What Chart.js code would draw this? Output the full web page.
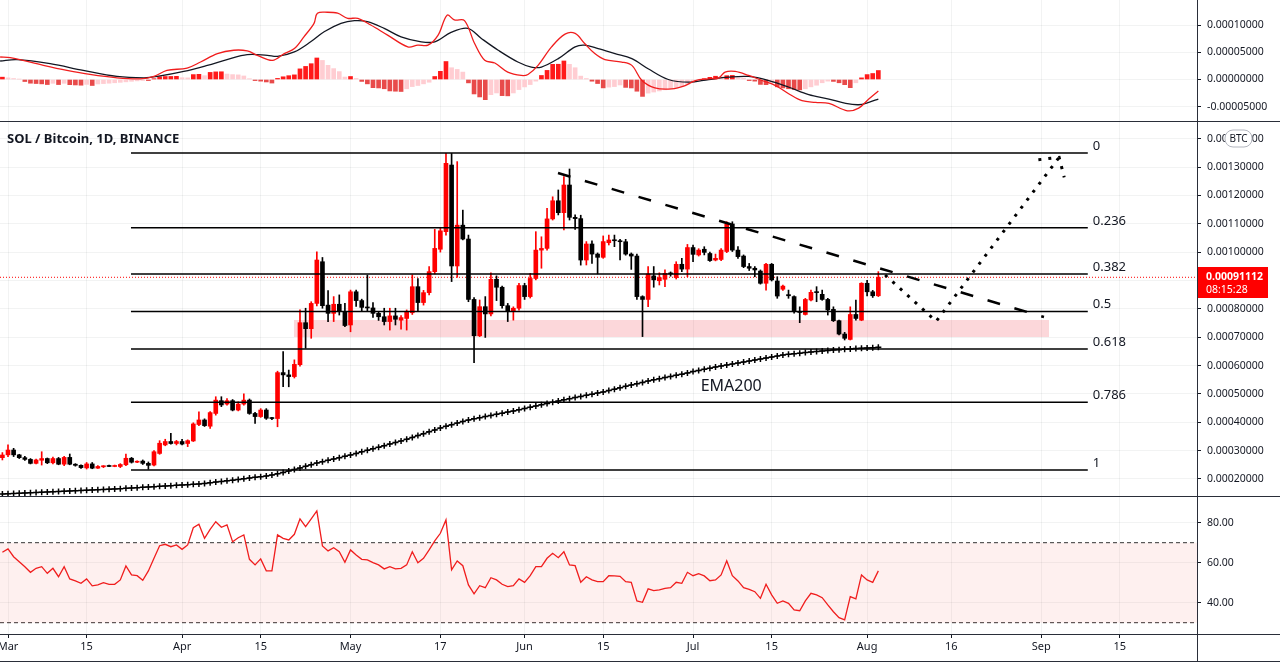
<!DOCTYPE html>
<html>
<head>
<meta charset="utf-8">
<title>SOL / Bitcoin, 1D, BINANCE</title>
<script src="https://cdn.jsdelivr.net/npm/chart.js@4.4.1/dist/chart.umd.min.js"></script>
<style>
  html, body { margin:0; padding:0; background:#ffffff; }
  body { width:1280px; height:662px; position:relative; overflow:hidden; }
  canvas { position:absolute; left:0; display:block; }
  .hl { position:absolute; left:0; width:1280px; height:1px; background:#2a2e39; }
  .vl { position:absolute; left:1197px; top:0; width:1px; height:662px; background:#2a2e39; }
</style>
</head>
<body>
<canvas id="macdChart" width="1280" height="121" style="top:0px"></canvas>
<canvas id="mainChart" width="1280" height="374" style="top:122px"></canvas>
<canvas id="rsiChart" width="1280" height="164" style="top:497px"></canvas>
<div class="hl" style="top:121px"></div>
<div class="hl" style="top:496px"></div>
<div class="hl" style="top:634px"></div>
<div class="hl" style="top:661px"></div>
<div class="vl"></div>
<script>
// ---------- DATA (prices in satoshis: 1e-8 BTC) ----------
const chartTitle = 'SOL / Bitcoin, 1D, BINANCE';
const FIRST_DAY = -1; // day index of first candle (0 = 1 Mar)

const dateTickDays   = [0, 14, 31, 45, 61, 77, 92, 106, 122, 136, 153, 168, 184, 198];
const dateTickLabels = ['Mar','15','Apr','15','May','17','Jun','15','Jul','15','Aug','16','Sep','15'];
const mainTickVals = [20000,30000,40000,50000,60000,70000,80000,90000,100000,110000,120000,130000,140000];
const macdTickVals = [-5000, 0, 5000, 10000];
const rsiTickVals  = [40, 60, 80];

const open = [
27500,28500,30200,28500,27500,26900,25500,26600,27200,25700,
27200,25200,27600,25200,24800,23900,25300,23800,24300,24600,
24400,24400,25000,27300,25900,26300,25500,24900,29000,32000,
33200,32500,33200,32500,33400,39200,40800,38600,43100,47600,
46400,47600,44300,46400,47800,43100,42000,44300,41400,41300,
57500,56700,56100,60300,75100,73000,81900,96600,81300,78400,
81600,79000,74300,86000,82900,80500,80300,78400,77200,75500,
77500,76000,76600,78600,87800,82200,85700,93100,101000,107200,
130700,95100,109500,104600,83300,70500,80750,78200,90400,87600,
81100,79200,80200,88200,84300,90700,100700,101300,111700,118100,
113900,123650,112250,111800,97200,102850,99300,98150,103300,104260,
104000,103650,99300,98600,84300,83300,91600,89900,90400,92500,
91000,95700,94000,101600,99000,101000,99500,97200,97400,100200,
109900,100700,98600,94900,94300,93300,89000,95700,89800,86900,
85000,84300,79000,78000,83100,85800,85100,83300,79800,75800,
71100,69200,78000,76000,89000,86000,84600];
const high = [
29300,32000,30800,28700,28000,27200,27000,29600,27400,27700,
27600,28000,28800,25400,25000,25800,25800,24700,24700,24900,
24900,25400,28800,27600,26400,26700,26000,30000,33500,34000,
36100,33600,34000,33800,39800,43700,41200,43800,49000,49000,
48300,48000,47200,50000,48200,43500,44800,44800,41700,58000,
64900,58400,62000,79600,80200,82500,100100,98100,86400,84300,
84900,81900,86600,86600,83400,91900,82200,79000,80200,80200,
80200,77600,79600,92000,90700,86500,94900,108000,108400,134800,
134800,131900,114800,106000,84000,83100,84300,92700,91600,88000,
81900,80700,89000,89000,92500,107200,105400,115400,119500,121900,
126600,129300,113100,113000,103700,104000,99700,105700,106000,106000,
104500,104500,99700,99300,84600,94900,94900,92700,93700,93000,
96600,97800,102700,102500,101200,101900,100000,99300,101200,110700,
110700,101900,99000,96000,94900,93700,96000,96000,91300,88400,
86600,84600,80700,83700,86600,87800,86600,83700,80700,76000,
71700,80700,83100,89200,90000,86500,93100];
const low = [
26700,27900,27900,27200,26500,25300,25300,24900,25400,25300,
25000,24700,25000,24500,23700,23500,23600,23700,24000,24300,
24300,24000,24700,25600,25700,25100,23400,24600,28700,31700,
32300,32000,32000,31400,33200,38800,38500,37800,42500,45500,
46000,44000,44000,46000,42800,39600,41700,41000,40900,38400,
52500,52500,55600,59800,66100,69600,81000,80200,75500,75500,
77800,73700,71900,80800,79200,79000,77000,75900,74300,72500,
74300,72800,72500,78000,79000,81300,84900,92300,100000,106000,
89600,91100,104300,82500,61000,70200,69900,77500,82900,80200,
75500,76000,79500,83300,83800,90200,94300,100700,111300,113100,
107800,111300,108000,95400,95450,96000,92300,97800,102500,101900,
97200,98900,93900,83300,70200,80750,87600,88400,87800,91500,
90500,93100,91300,96600,98600,99000,96700,96900,97000,99800,
100200,97800,94500,93500,91300,88700,86600,89800,83700,86500,
83700,78500,75100,77800,82800,82500,83000,77800,75500,70800,
69000,69000,76000,75800,84500,84000,84300];
const close = [
28450,30200,28500,27500,26900,25500,26700,27200,25700,27200,
25200,27600,25200,24800,24000,25300,23800,24400,24500,24400,
24600,25100,27300,25900,26100,25500,24800,29600,32600,33200,
32500,33200,32300,33500,39400,40800,38800,43400,47800,46100,
47600,44300,46400,47800,43100,42000,44300,41400,41300,57500,
56700,56100,60400,75100,73000,81900,97200,81100,78400,81600,
79000,74100,86000,82900,80500,80300,78400,77200,75500,77500,
76300,76900,79000,87800,82200,85700,93100,101300,107500,131300,
95100,109500,104600,83300,70500,80750,78200,90400,87600,81100,
79300,80200,88200,84300,90700,100700,101300,111700,118100,113900,
123650,112250,111800,97200,102850,99300,98150,103700,104260,104000,
103650,99300,98600,84300,83300,92300,90200,91000,92500,92300,
95700,94000,101600,99200,100700,99900,97000,97800,100700,109900,
100700,98400,94900,94300,93700,89000,95700,90200,84500,88000,
84600,79000,78700,83300,85800,85700,83300,79600,75800,71100,
69600,78000,76600,89000,86000,84600,91112];

const ema200 = [
14700,14790,14880,14970,15060,15150,15240,15330,15420,15510,
15600,15690,15780,15870,15960,16050,16140,16230,16320,16410,
16500,16590,16700,16815,16930,17050,17170,17290,17400,17520,
17640,17760,17870,17990,18110,18226,18440,18660,18890,19120,
19350,19580,19810,20060,20310,20560,20800,21047,21400,21800,
22300,22800,23350,23867,24450,25050,25630,26100,26580,27050,
27520,27990,28451,29000,29550,30100,30650,31200,31750,32300,
32850,33388,34000,34650,35300,35950,36650,37300,37971,38600,
39150,39700,40250,40792,41200,41600,42000,42400,42800,43200,
43600,43966,44400,44850,45300,45750,46200,46650,47050,47492,
47900,48300,48700,49100,49500,49900,50300,50665,51150,51650,
52150,52650,53150,53600,54050,54544,54950,55350,55750,56150,
56550,56950,57400,57850,58250,58650,59050,59480,59830,60180,
60530,60880,61230,61580,61930,62280,62630,62980,63340,63711,
63930,64150,64350,64550,64750,64950,65120,65300,65474,65600,
65730,65850,65970,66090,66200,66300,66400];

const rsi = [
65.2,66.9,63,60.5,58,55.2,57.2,58,54.7,57.2,
53,58,51.9,50.9,49.7,51.9,48.4,48.9,50,49.2,
49.2,51.4,58.4,53.9,53.5,51.2,55.9,62.2,68.5,69.2,
68,68.9,66.7,68.9,77.5,79.2,72.2,76.7,80.5,77.7,
78.9,70.5,72.5,73.9,61.7,58.9,61.9,55.9,55.9,73.9,
72.2,71.4,74.2,81.9,78,81.9,85.9,68.4,65.9,67.5,
65.5,60.2,66.4,63.9,61.7,61.4,60,58.9,56.9,58,
56.9,57.2,58.9,65.5,60,62.2,66.4,70.9,74.7,81.4,
56.4,60.9,58.5,48.9,44.4,48.5,47.5,52.5,51.4,49.2,
48,48.5,51.9,50.2,53.5,58,58,62.2,64.7,62.5,
65.5,58.9,58.5,50.2,53,51.4,50.5,50.5,53.5,53.4,
53.2,50.5,50.2,40.9,40.2,46.9,46,46.4,47.2,47.5,
50.2,49.7,55.2,53.5,54.5,53.4,51,51.4,53.9,61,
53.5,50.9,47.5,46.7,45.5,42.2,49.2,43.9,39.7,40.9,
39.7,36.4,36,40.9,44.7,43.9,42.5,38.9,35.5,32.5,
31.4,43,41.9,53.9,51.4,50.2,55.9];
const rsiUpper = 70, rsiLower = 30;

const macdHist = [
430,300,180,60,-370,-680,-740,-800,-925,-700,
-930,-700,-950,-1000,-1050,-900,-1100,-820,-750,-680,
-600,-520,-430,-330,-250,-180,-200,150,500,550,
560,580,330,300,900,950,700,1300,1400,1420,
1000,900,850,650,150,-200,-300,-450,-650,200,
500,700,850,1950,2400,2900,3950,3500,2600,2000,
1450,450,550,200,-350,-800,-1500,-1550,-1700,-2100,
-2150,-2200,-1700,-1300,-1100,-800,-500,550,1500,3300,
2160,1850,1360,-620,-2650,-3200,-3700,-2780,-2470,-2960,
-3000,-2470,-1850,-1360,-930,-300,740,1670,2780,2800,
3400,2780,2160,620,180,-310,-740,-1540,-1400,-1300,
-1000,-1450,-1550,-2150,-3100,-2500,-2300,-2100,-1900,-1700,
-1550,-1300,-900,-500,-100,150,400,600,500,700,
750,300,250,-200,-300,-900,-950,-600,-1350,-1550,
-1700,-1850,-1900,-1700,-1350,-1050,-600,-300,-350,-600,
-950,-1500,-600,300,900,1100,1650];

const macdDays = [-1.4,0.4,6.3,10.5,14.6,19.4,23.6,26,28.3,31.9,34.3,37.3,40.2,42.6,44.4,47.1,49.2,51,52.7,54.5,55.1,56.9,58.7,60.5,62.3,64.6,67.6,71.2,73,74.8,76.6,78.2,79.5,81.3,83.1,84.9,86.7,89,91.4,92.6,94.4,96.8,99.2,101,102.7,104.5,106.3,109.3,111.1,112.9,115.2,118.2,120.6,122.4,124.8,126.6,127.7,129.5,131.9,134.3,136.7,139.1,141.4,143.8,146.2,149.5,151.5,153.3,155];
const macdVals = [4130,4020,2593,1667,926,309,123,556,1667,2099,3210,4753,5371,5247,4445,3519,4753,5679,7840,10310,12161,12346,12161,11235,11235,10000,8149,5988,6297,6297,8149,11800,10927,10803,6605,3519,3025,1358,741,926,2593,5988,8334,8457,6605,4753,3642,3210,2593,-185,-1543,-1728,-1111,-185,123,309,1358,1482,741,-185,-1111,-2654,-3889,-4197,-4383,-5741,-5247,-3580,-2100];
const signalDays = [-1.4,1.6,7.5,13.4,19.4,24.2,26.6,31.3,35.5,39,42.6,46.2,48,51,53.9,56.3,59.3,61.7,64,67,70,73.6,76,78.9,81.9,84.3,87.3,90.8,93.2,95,98,101,102.7,105.1,108.1,111.1,114,117.6,121.2,124.8,128.3,131.9,135.5,139.1,142.6,146.2,149.2,151.5,153.3,155];
const signalVals = [3396,3642,2901,1667,556,309,556,1482,2593,3642,4568,4445,4260,5062,6914,8766,10310,10803,10618,9383,7840,6914,6914,8643,9383,7531,5371,3210,2284,2284,3827,5988,6297,5679,4753,3827,1975,0,-494,0,432,556,-185,-1420,-2778,-3580,-4383,-4630,-4197,-3580];

// Drawings
const fibLabels = ['0','0.236','0.382','0.5','0.618','0.786','1'];
const fibPrices = [134940,108560,92240,79050,65860,47080,23160];
const fibStartDay = 21.9, fibEndDay = 192.3;
const zoneDays = [50.9, 185.4];
const zoneLow = 70050, zoneHigh = 76050;
const trendDays = [97.95, 184.5];
const trendVals = [127880, 77110];
const pathDays = [156.2, 165.3, 187.2];
const pathVals = [91920, 75600, 133420];
const arrowDays = [183.5, 187.2, 188.1];
const arrowVals = [132570, 133420, 126370];
const lastPrice = 91112;
const countdown = '08:15:28';
const quoteCurrency = 'BTC';
const emaLabel = 'EMA200', emaLabelDay = 128.8, emaLabelVal = 52780;

// ---------- RENDERING ----------
const FONT = '"Noto Sans", sans-serif';
Chart.defaults.font.family = FONT;
Chart.defaults.color = '#131722';
const X_MIN = -1.425, X_MAX = 211.75;
const GRID = 'rgba(42,46,57,0.06)';
const INK = '#131722';
const UP = '#ff0000', DOWN = '#000000';
const sat = v => (v / 1e8).toFixed(8);
const days = close.map((_, i) => FIRST_DAY + i);
const pts = (xs, ys) => xs.map((x, i) => ({ x, y: ys[i] }));

function xAxis(showLabels) {
  return {
    type: 'linear', min: X_MIN, max: X_MAX, offset: false,
    afterBuildTicks: s => { s.ticks = dateTickDays.map(v => ({ value: v })); },
    afterFit: s => { s.height = showLabels ? 27 : 0; s.paddingLeft = 0; s.paddingRight = 0; },
    ticks: {
      display: showLabels, autoSkip: false, maxRotation: 0, padding: 2,
      color: INK, font: { size: 11 },
      callback: v => { const i = dateTickDays.indexOf(v); return i >= 0 ? dateTickLabels[i] : ''; }
    },
    grid: { color: GRID, offset: false, drawTicks: showLabels, tickLength: 4, tickColor: INK },
    border: { display: false }
  };
}
function yAxis(min, max, tickVals, fmt) {
  return {
    position: 'right', min, max,
    afterBuildTicks: s => { s.ticks = tickVals.map(v => ({ value: v })); },
    afterFit: s => { s.width = 83; s.paddingTop = 0; s.paddingBottom = 0; },
    ticks: { autoSkip: false, padding: 6, color: INK, font: { size: 10.5 }, callback: fmt },
    grid: { color: GRID, drawTicks: true, tickLength: 4, tickColor: INK },
    border: { display: false }
  };
}
const baseOpts = {
  responsive: false, animation: false, events: [],
  layout: { padding: 0, autoPadding: false },
  plugins: { legend: { display: false }, tooltip: { enabled: false } }
};

// ----- MACD -----
const histColors = macdHist.map((h, i) => {
  const prev = i > 0 ? macdHist[i - 1] : h;
  if (h >= 0) return h >= prev ? '#ff1a1a' : '#ffcdd2';
  return h < prev ? '#e84a4a' : '#ffcdd2';
});
new Chart(document.getElementById('macdChart'), {
  type: 'bar',
  data: { datasets: [
    { type: 'line', data: pts(macdDays, macdVals), borderColor: '#f01d1d', borderWidth: 1.3, pointRadius: 0, tension: 0.35, order: 1 },
    { type: 'line', data: pts(signalDays, signalVals), borderColor: INK, borderWidth: 1.3, pointRadius: 0, tension: 0.35, order: 2 },
    { type: 'bar', data: pts(days, macdHist), backgroundColor: histColors, barThickness: 4, grouped: false, order: 3 }
  ]},
  options: Object.assign({}, baseOpts, {
    scales: { x: xAxis(false), y: yAxis(-7615, 14590, macdTickVals, v => sat(v)) }
  })
});

// ----- MAIN -----
const candleColors = close.map((c, i) => c >= open[i] ? UP : DOWN);
const mainDatasets = [
  { type: 'line', data: pts(zoneDays, [zoneHigh, zoneHigh]), borderWidth: 0, pointRadius: 0, fill: '+1', backgroundColor: 'rgba(242,54,69,0.2)', order: 30 },
  { type: 'line', data: pts(zoneDays, [zoneLow, zoneLow]), borderWidth: 0, pointRadius: 0, fill: false, order: 30 },
  { type: 'line', data: pts([X_MIN, X_MAX], [lastPrice, lastPrice]), borderColor: '#ff0000', borderWidth: 1, borderDash: [1, 2], pointRadius: 0, order: 25 },
  { type: 'line', data: pts(days, ema200), borderColor: '#000', borderWidth: 1, pointStyle: 'cross', pointRadius: 3, pointBorderWidth: 1.5, pointBorderColor: '#000', order: 20 },
  { type: 'bar', data: days.map((d, i) => ({ x: d, y: [low[i], high[i]] })), backgroundColor: candleColors, barThickness: 1, grouped: false, order: 11 },
  { type: 'bar', data: days.map((d, i) => ({ x: d, y: [open[i], close[i]] })), backgroundColor: candleColors, barThickness: 4, minBarLength: 1, grouped: false, order: 10 }
];
fibPrices.forEach(p => mainDatasets.push({
  type: 'line', data: pts([fibStartDay, fibEndDay], [p, p]), borderColor: '#000', borderWidth: 1.5, pointRadius: 0, order: 5
}));
mainDatasets.push({ type: 'line', data: pts(trendDays, trendVals), borderColor: '#000', borderWidth: 2.5, borderDash: [13, 15], pointRadius: 0, order: 2 });
mainDatasets.push({ type: 'line', data: pts(pathDays, pathVals), borderColor: '#000', borderWidth: 3, borderDash: [3, 7], pointRadius: 0, order: 1 });
mainDatasets.push({ type: 'line', data: pts(arrowDays, arrowVals), borderColor: '#000', borderWidth: 3, borderDash: [3, 7], pointRadius: 0, order: 1 });

const mainOverlay = {
  id: 'mainOverlay',
  afterDraw(chart) {
    const { ctx, chartArea, scales: { x, y } } = chart;
    ctx.save();
    ctx.fillStyle = INK;
    ctx.font = '13px ' + FONT;
    ctx.textAlign = 'left'; ctx.textBaseline = 'alphabetic';
    const lx = x.getPixelForValue(fibEndDay) + 5;
    fibPrices.forEach((p, i) => ctx.fillText(fibLabels[i], lx, y.getPixelForValue(p) - 3));
    ctx.font = '16px ' + FONT;
    ctx.textAlign = 'center'; ctx.textBaseline = 'middle';
    ctx.fillText(emaLabel, x.getPixelForValue(emaLabelDay), y.getPixelForValue(emaLabelVal));
    ctx.font = 'bold 13px ' + FONT;
    ctx.textAlign = 'left';
    ctx.fillText(chartTitle, 7, 17);
    // last price label
    const py = Math.round(y.getPixelForValue(lastPrice));
    ctx.fillStyle = '#ff0000';
    ctx.fillRect(chartArea.right, py - 10, 71, 31);
    ctx.fillStyle = '#ffffff';
    ctx.font = 'bold 10.5px ' + FONT;
    ctx.fillText(sat(lastPrice), chartArea.right + 9, py);
    ctx.font = '10.5px ' + FONT;
    ctx.fillText(countdown, chartArea.right + 9, py + 13);
    // currency pill
    const bx = 1225, by = 8, bw = 27, bh = 17;
    ctx.beginPath();
    if (ctx.roundRect) ctx.roundRect(bx, by, bw, bh, 8); else ctx.rect(bx, by, bw, bh);
    ctx.fillStyle = '#ffffff'; ctx.fill();
    ctx.strokeStyle = '#b2b5be'; ctx.lineWidth = 1; ctx.stroke();
    ctx.fillStyle = INK; ctx.font = '10px ' + FONT; ctx.textAlign = 'center';
    ctx.fillText(quoteCurrency, bx + bw / 2, by + bh / 2 + 0.5);
    ctx.restore();
  }
};
new Chart(document.getElementById('mainChart'), {
  type: 'bar',
  data: { datasets: mainDatasets },
  options: Object.assign({}, baseOpts, {
    scales: { x: xAxis(false), y: yAxis(13990, 145870, mainTickVals, v => sat(v)) }
  }),
  plugins: [mainOverlay]
});

// ----- RSI -----
new Chart(document.getElementById('rsiChart'), {
  type: 'line',
  data: { datasets: [
    { data: pts(days, rsi), borderColor: '#f01d1d', borderWidth: 1.3, pointRadius: 0, tension: 0, order: 1 },
    { data: pts([X_MIN, X_MAX], [rsiUpper, rsiUpper]), borderColor: '#333', borderWidth: 1, borderDash: [4, 3], pointRadius: 0, fill: '+1', backgroundColor: 'rgba(244,67,54,0.08)', order: 5 },
    { data: pts([X_MIN, X_MAX], [rsiLower, rsiLower]), borderColor: '#333', borderWidth: 1, borderDash: [4, 3], pointRadius: 0, fill: false, order: 5 }
  ]},
  options: Object.assign({}, baseOpts, {
    scales: { x: xAxis(true), y: yAxis(24.35, 92.85, rsiTickVals, v => v.toFixed(2)) }
  })
});
</script>
</body>
</html>
